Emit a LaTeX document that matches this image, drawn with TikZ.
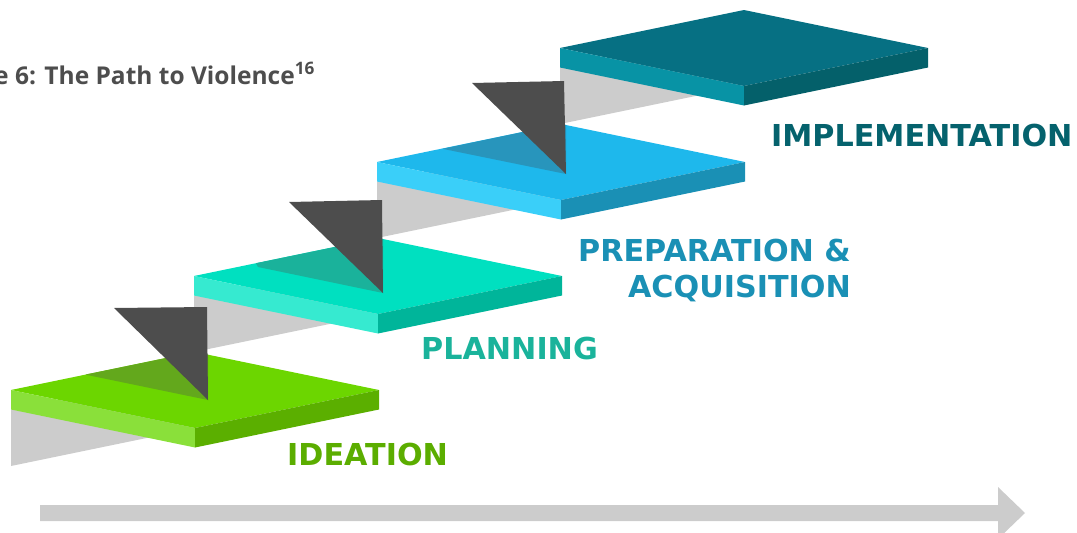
\documentclass[tikz,border=0pt]{standalone}
\usepackage{fontspec}
\setmainfont{DejaVu Sans}
\newfontfamily\titlefont{Open Sans}
\definecolor{wallgray}{HTML}{CCCCCC}
\definecolor{pointer}{HTML}{4D4D4D}
\definecolor{titlegray}{HTML}{4D4D4D}
% step colours: top, left side, right side, shadow
\definecolor{greenTop}{HTML}{6CD600}
\definecolor{greenLeft}{HTML}{8AE03A}
\definecolor{greenRight}{HTML}{5BAF00}
\definecolor{greenShade}{HTML}{63A81C}
\definecolor{tealTop}{HTML}{00E0C0}
\definecolor{tealLeft}{HTML}{36EAD0}
\definecolor{tealRight}{HTML}{00B59A}
\definecolor{tealShade}{HTML}{1AB29B}
\definecolor{blueTop}{HTML}{1EB8EC}
\definecolor{blueLeft}{HTML}{3ACFF9}
\definecolor{blueRight}{HTML}{1A90B5}
\definecolor{blueShade}{HTML}{2895BC}
\definecolor{navyTop}{HTML}{067083}
\definecolor{navyLeft}{HTML}{0893A5}
\definecolor{navyRight}{HTML}{04606A}
\definecolor{ideaText}{HTML}{5BAD00}
\definecolor{planText}{HTML}{1AB39B}
\definecolor{prepText}{HTML}{1A90B5}
\definecolor{implText}{HTML}{05626D}
\begin{document}
\begin{tikzpicture}[x=1pt,y=-1pt,
  label/.style={anchor=base west,inner sep=0pt,font=\bfseries\fontsize{30.2}{35}\selectfont},
  pointerfill/.style={fill=pointer}]
\useasboundingbox (0,0) rectangle (1077,533);
\def\t{19.5}

% grey risers behind every step
\foreach \lx/\ly in {11/390,194/276,377/162,560/48}{
  \fill[wallgray] (\lx,\ly+\t) -- (\lx,\ly+76) -- (\lx+184,\ly+38) -- (\lx+184,\ly+\t-38) -- cycle;
}

% the four steps
\foreach \lx/\ly/\ctop/\cleft/\cright in {
  11/390/greenTop/greenLeft/greenRight,
  194/276/tealTop/tealLeft/tealRight,
  377/162/blueTop/blueLeft/blueRight,
  560/48/navyTop/navyLeft/navyRight}{
  \fill[\ctop] (\lx,\ly) -- (\lx+184,\ly-38) -- (\lx+368,\ly) -- (\lx+184,\ly+38) -- cycle;
  \fill[\cleft] (\lx,\ly) -- (\lx+184,\ly+38) -- (\lx+184,\ly+38+\t) -- (\lx,\ly+\t) -- cycle;
  \fill[\cright] (\lx+184,\ly+38) -- (\lx+368,\ly) -- (\lx+368,\ly+\t) -- (\lx+184,\ly+38+\t) -- cycle;
}

% shadows cast by the pointers
\fill[greenShade] (85.3,374.6) -- (195,352) -- (208,354.7) -- (208,400) -- cycle;
\fill[tealShade] (256,263.2) -- (378,238) -- (383,239) -- (383,293) -- (258,267) -- cycle;
\fill[blueShade] (442.5,148.8) -- (561,124) -- (566,125) -- (566,174) -- cycle;

% pointers between the steps
\fill[pointerfill] (114,308) -- (207,307) -- (208,400) -- cycle;
\fill[pointerfill] (289,202) -- (382,200) -- (383,293) -- cycle;
\fill[pointerfill] (472,83) -- (564,81) -- (566,174) -- cycle;

% labels
\node[label,text=ideaText] (idea) at (287,465) {IDEATION};
\node[label,text=planText] (plan) at (421,359) {PLANNING};
\node[label,text=prepText,anchor=base east] (prep1) at (851,261) {PREPARATION \&};
\node[label,text=prepText,anchor=base east] (prep2) at (851,297) {ACQUISITION};
\node[label,text=implText] (impl) at (771,146) {IMPLEMENTATION};

% title
\node[anchor=base west,inner sep=0pt,text=titlegray,font=\titlefont\bfseries\fontsize{24.5}{29}\selectfont] (title) at (-6,84) {e 6: The Path to Violence\textsuperscript{16}};

% time arrow
\fill[wallgray] (40,505) -- (998,505) -- (998,487) -- (1025,513) -- (998,539) -- (998,521) -- (40,521) -- cycle;
\end{tikzpicture}
\end{document}
